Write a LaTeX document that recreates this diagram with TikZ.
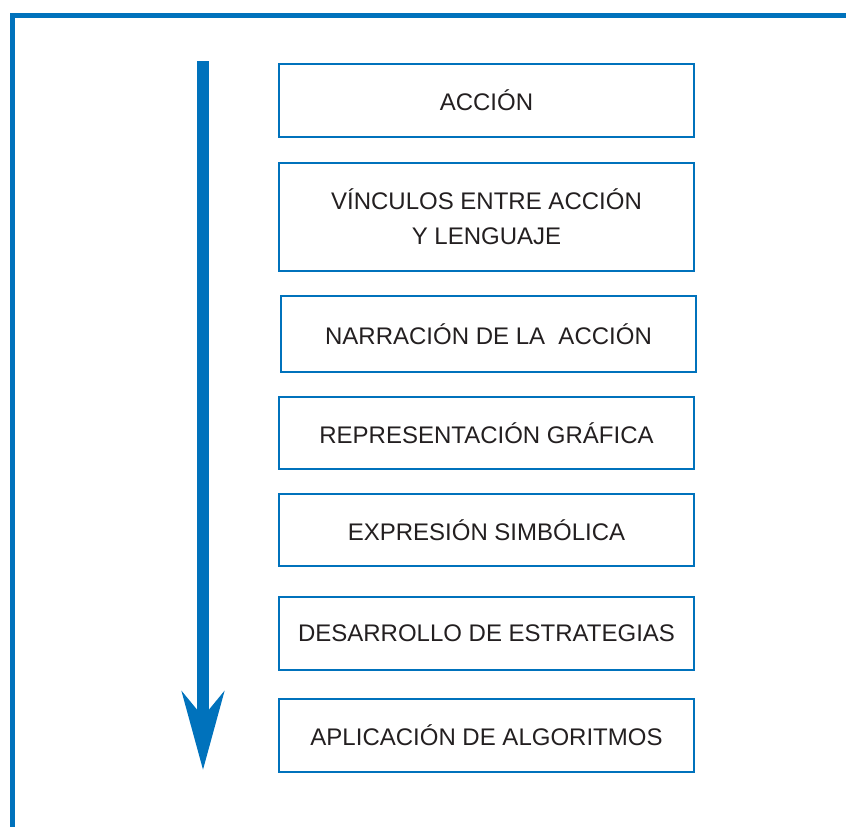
\documentclass[tikz,border=0pt]{standalone}
\usepackage{fontspec}
\setmainfont{Liberation Sans}
\usetikzlibrary{arrows.meta}
\definecolor{azul}{HTML}{0072BC}
\definecolor{texto}{HTML}{231F20}
\begin{document}
\begin{tikzpicture}[
        x=1pt, y=-1pt,
        % Estilo para las cajas de etapas
        etapa/.style={
            draw=azul,
            line width=2.3pt,
            minimum width=415pt,
            text=texto,
            align=center,
            font=\fontsize{24}{35}\selectfont,
            inner sep=0pt
        },
        % Estilo para la flecha vertical
        flecha/.style={
            draw=azul,
            line width=12pt,
            -{Stealth[length=78pt, width=42pt, inset=25pt]}
        }
    ]
    \useasboundingbox (0,0) rectangle (846,827);

    % Marco superior e izquierdo
    \draw[azul, line width=5pt] (12.5,827) -- (12.5,15) -- (846,15);

    % Cajas
    \node[etapa, minimum height=73pt] (accion)     at (486.5,100.5) {ACCIÓN};
    \node[etapa, minimum height=108pt] (vinculos)  at (486.5,217)   {VÍNCULOS ENTRE ACCIÓN\\Y LENGUAJE};
    \node[etapa, minimum height=76pt] (narracion)  at (488.5,334)   {NARRACIÓN DE LA\ \ ACCIÓN};
    \node[etapa, minimum height=72pt] (grafica)    at (486.5,433)   {REPRESENTACIÓN GRÁFICA};
    \node[etapa, minimum height=72pt] (simbolica)  at (486.5,530)   {EXPRESIÓN SIMBÓLICA};
    \node[etapa, minimum height=73pt] (estrategias) at (486.5,633.5) {DESARROLLO DE ESTRATEGIAS};
    \node[etapa, minimum height=73pt] (algoritmos) at (486.5,735.5) {APLICACIÓN DE ALGORITMOS};

    % Flecha
    \coordinate (inicio) at (203,61);
    \coordinate (fin) at (203,770);
    \draw[flecha] (inicio) -- (fin);

\end{tikzpicture}
\end{document}
